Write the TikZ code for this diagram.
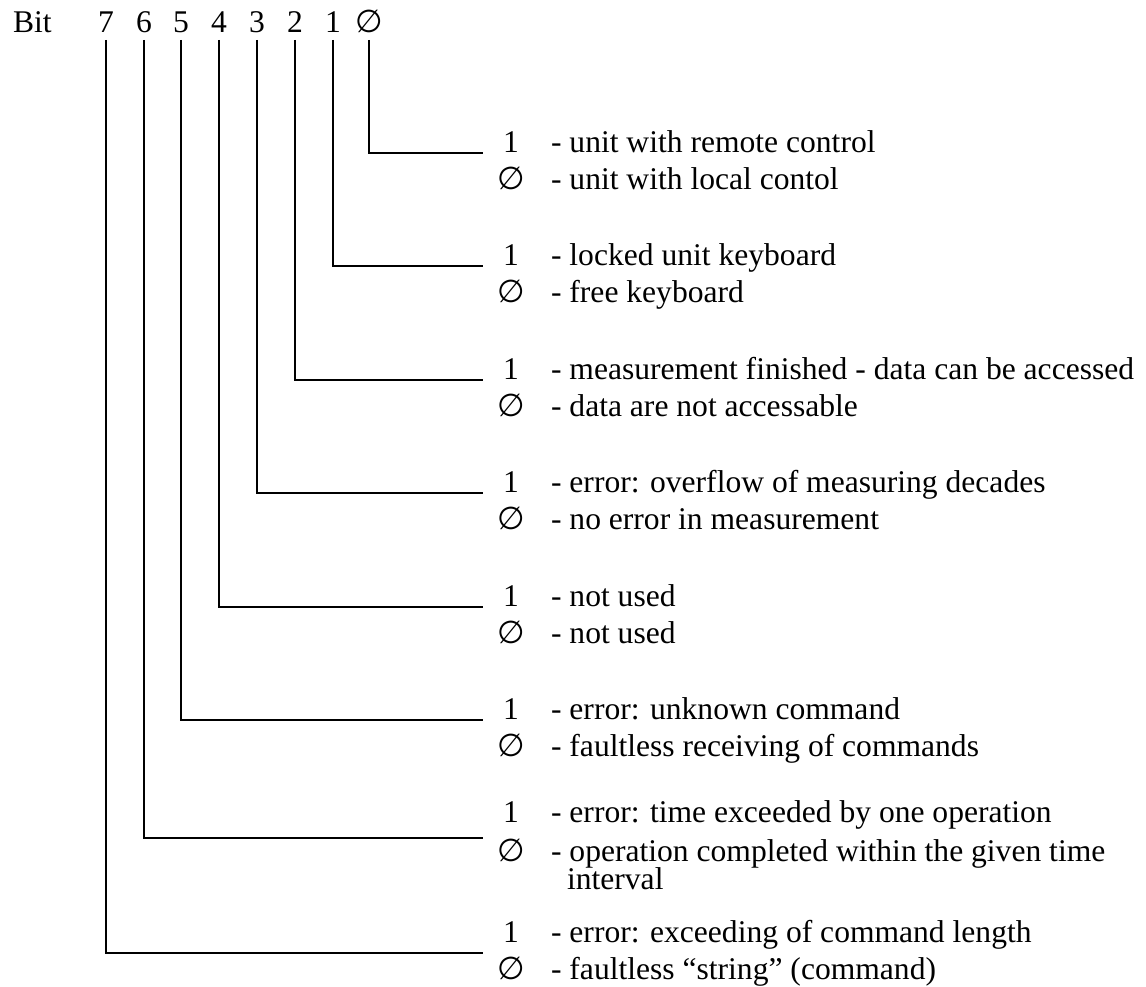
\documentclass[tikz,border=0pt]{standalone}
\usepackage{fontspec}
\setmainfont{Liberation Serif}
\newfontfamily\nilfont{DejaVu Sans}
\usepackage{tikz}
\usetikzlibrary{positioning}

\newcommand{\zerobit}{{\nilfont ∅}}

\begin{document}
\begin{tikzpicture}[x=0.38pt, y=-0.38pt, font=\fontsize{12}{14}\selectfont, line width=0.8pt,
		bitnum/.style={anchor=base, inner sep=2.6pt, outer sep=0pt, text depth=0pt},
		val/.style={anchor=base, inner sep=0pt},
		desc/.style={anchor=base west, inner sep=0pt}]
				\useasboundingbox (0,0) rectangle (1146,987);
				
				\node[anchor=base west, inner sep=0pt] (bit) at (12,33) {Bit};
				\node[bitnum] (b7) at (106,33) {7};
				\node[bitnum] (b6) at (144,33) {6};
				\node[bitnum] (b5) at (181,33) {5};
				\node[bitnum] (b4) at (219,33) {4};
				\node[bitnum] (b3) at (257,33) {3};
				\node[bitnum] (b2) at (295,33) {2};
				\node[bitnum] (b1) at (333,33) {1};
				\node[bitnum] (b0) at (369,33) {\zerobit};
				
				\coordinate (e0) at (483,153);
				\coordinate (e1) at (483,266);
				\coordinate (e2) at (483,380);
				\coordinate (e3) at (483,493);
				\coordinate (e4) at (483,607);
				\coordinate (e5) at (483,720);
				\coordinate (e6) at (483,838);
				\coordinate (e7) at (483,953);
				
				\node[val] (one0) at (511,153) {1};
				\node[val] (nil0) at (511,190) {\zerobit};
				\node[desc] (on0) at (550,153) {- unit with remote control};
				\node[desc] (off0) at (550,190) {- unit with local contol};
				
				\node[val] (one1) at (511,266) {1};
				\node[val] (nil1) at (511,303) {\zerobit};
				\node[desc] (on1) at (550,266) {- locked unit keyboard};
				\node[desc] (off1) at (550,303) {- free keyboard};
				
				\node[val] (one2) at (511,380) {1};
				\node[val] (nil2) at (511,417) {\zerobit};
				\node[desc] (on2) at (550,380) {- measurement finished - data can be accessed};
				\node[desc] (off2) at (550,417) {- data are not accessable};
				
				\node[val] (one3) at (511,493) {1};
				\node[val] (nil3) at (511,530) {\zerobit};
				\node[desc] (on3) at (550,493) {- error: overflow of measuring decades};
				\node[desc] (off3) at (550,530) {- no error in measurement};
				
				\node[val] (one4) at (511,607) {1};
				\node[val] (nil4) at (511,644) {\zerobit};
				\node[desc] (on4) at (550,607) {- not used};
				\node[desc] (off4) at (550,644) {- not used};
				
				\node[val] (one5) at (511,720) {1};
				\node[val] (nil5) at (511,757) {\zerobit};
				\node[desc] (on5) at (550,720) {- error: unknown command};
				\node[desc] (off5) at (550,757) {- faultless receiving of commands};
				
				\node[val] (one6) at (511,823) {1};
				\node[val] (nil6) at (511,862) {\zerobit};
				\node[desc] (on6) at (550,823) {- error: time exceeded by one operation};
				\node[desc] (off6) at (550,862) {- operation completed within the given time};
				\node[desc] (more6) at (566,890) {interval};
				
				\node[val] (one7) at (511,943) {1};
				\node[val] (nil7) at (511,980) {\zerobit};
				\node[desc] (on7) at (550,943) {- error: exceeding of command length};
				\node[desc] (off7) at (550,980) {- faultless “string” (command)};
				
				\draw (b0) |- (e0);
				\draw (b1) |- (e1);
				\draw (b2) |- (e2);
				\draw (b3) |- (e3);
				\draw (b4) |- (e4);
				\draw (b5) |- (e5);
				\draw (b6) |- (e6);
				\draw (b7) |- (e7);
			\end{tikzpicture}
\end{document}
